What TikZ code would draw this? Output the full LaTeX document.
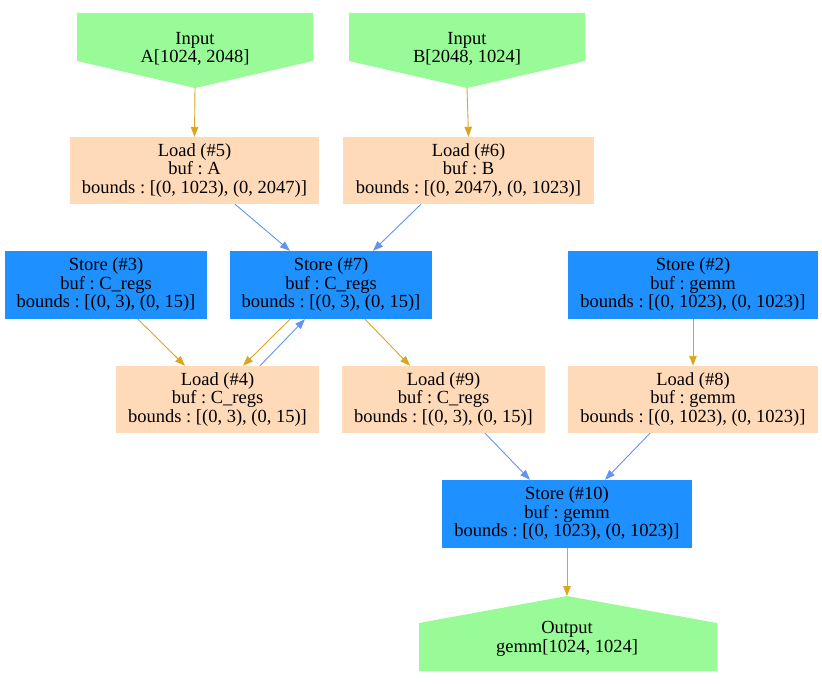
\documentclass[tikz,border=0pt]{standalone}
\usepackage{fontspec}
\setmainfont{Liberation Serif}
\frenchspacing
\usetikzlibrary{arrows.meta,calc}
\definecolor{storeblue}{HTML}{1E90FF}
\definecolor{loadpeach}{HTML}{FFDAB9}
\definecolor{iogreen}{HTML}{98FB98}
\definecolor{edgeorange}{HTML}{DAA520}
\definecolor{edgeblue}{HTML}{6495ED}
\tikzset{
  box/.style={rectangle, inner sep=0pt, minimum height=67pt, align=center,
    font=\fontsize{18.5}{18.5}\selectfont, yshift=0pt},
  storebox/.style={box, fill=storeblue},
  loadbox/.style={box, fill=loadpeach},
  iotext/.style={inner sep=0pt, align=center, font=\fontsize{18.5}{18.5}\selectfont},
  iofill/.style={fill=iogreen},
  oedge/.style={draw=edgeorange, line width=0.9pt, -{Triangle[length=10pt,width=7.5pt]}},
  bedge/.style={draw=edgeblue, line width=0.9pt, -{Triangle[length=10pt,width=7.5pt]}},
}
\begin{document}
\begin{tikzpicture}[x=1pt,y=-1pt]
\useasboundingbox (0,0) rectangle (822,685);
% inputs
\fill[iofill] (77,13) -- (313,13) -- (313,61) -- (195,88) -- (77,61) -- cycle;
\node[iotext] (inA) at (195,49) {Input\\A[1024, 2048]};
\coordinate (inAtip) at (195,88);
\fill[iofill] (349,13) -- (585,13) -- (585,61) -- (467,88) -- (349,61) -- cycle;
\node[iotext] (inB) at (467,49) {Input\\B[2048, 1024]};
\coordinate (inBtip) at (467,88);
% output
\fill[iofill] (567,596) -- (717,623) -- (717,671) -- (419,671) -- (419,623) -- cycle;
\node[iotext] (out) at (567,639) {Output\\gemm[1024, 1024]};
\coordinate (outtip) at (567,596);
% boxes
\node[loadbox, minimum width=249pt] (L5) at (194.5,170.5) {Load (\#5)\\buf : A\\bounds : [(0, 1023), (0, 2047)]};
\node[loadbox, minimum width=251pt] (L6) at (468.5,170.5) {Load (\#6)\\buf : B\\bounds : [(0, 2047), (0, 1023)]};
\node[storebox, minimum width=202pt, minimum height=68pt] (S3) at (106,285) {Store (\#3)\\buf : C\_regs\\bounds : [(0, 3), (0, 15)]};
\node[storebox, minimum width=202pt, minimum height=68pt] (S7) at (331,285) {Store (\#7)\\buf : C\_regs\\bounds : [(0, 3), (0, 15)]};
\node[storebox, minimum width=250pt, minimum height=68pt] (S2) at (693,285) {Store (\#2)\\buf : gemm\\bounds : [(0, 1023), (0, 1023)]};
\node[loadbox, minimum width=203pt] (L4) at (217.5,399.5) {Load (\#4)\\buf : C\_regs\\bounds : [(0, 3), (0, 15)]};
\node[loadbox, minimum width=203pt] (L9) at (443.5,399.5) {Load (\#9)\\buf : C\_regs\\bounds : [(0, 3), (0, 15)]};
\node[loadbox, minimum width=250pt] (L8) at (693,399.5) {Load (\#8)\\buf : gemm\\bounds : [(0, 1023), (0, 1023)]};
\node[storebox, minimum width=250pt, minimum height=68pt] (S10) at (567,514) {Store (\#10)\\buf : gemm\\bounds : [(0, 1023), (0, 1023)]};
% edges
\draw[oedge] (inAtip) -- (L5.north);
\draw[oedge] (inBtip) -- (L6.north);
\draw[bedge] ($(L5.south)+(40.5,0)$) -- ($(S7.north)+(-41,0)$);
\draw[bedge] ($(L6.south)+(-47.5,0)$) -- ($(S7.north)+(42,0)$);
\draw[oedge] ($(S3.south)+(32,0)$) -- ($(L4.north)+(-32.5,0)$);
\draw[oedge] ($(S7.south)+(-41,0)$) -- ($(L4.north)+(25.5,0)$);
\draw[bedge] ($(L4.north)+(42.5,0)$) -- ($(S7.south)+(-26,0)$);
\draw[oedge] ($(S7.south)+(34,0)$) -- ($(L9.north)+(-33.5,0)$);
\draw[oedge] (S2.south) -- (L8.north);
\draw[bedge] ($(L9.south)+(41.5,0)$) -- ($(S10.north)+(-37,0)$);
\draw[bedge] ($(L8.south)+(-43,0)$) -- ($(S10.north)+(38,0)$);
\draw[oedge] (S10.south) -- (outtip);
\end{tikzpicture}
\end{document}
